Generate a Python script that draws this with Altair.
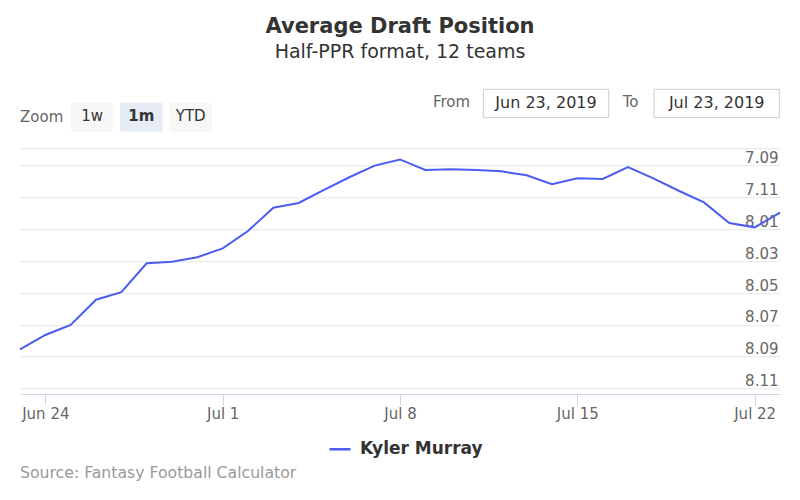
import altair as alt
import pandas as pd

# ---- data ----
dates = [
    "2019-06-23", "2019-06-24", "2019-06-25", "2019-06-26", "2019-06-27",
    "2019-06-28", "2019-06-29", "2019-06-30", "2019-07-01", "2019-07-02",
    "2019-07-03", "2019-07-04", "2019-07-05", "2019-07-06", "2019-07-07",
    "2019-07-08", "2019-07-09", "2019-07-10", "2019-07-11", "2019-07-12",
    "2019-07-13", "2019-07-14", "2019-07-15", "2019-07-16", "2019-07-17",
    "2019-07-18", "2019-07-19", "2019-07-20", "2019-07-21", "2019-07-22",
    "2019-07-23",
]
# overall pick number (12 teams): 81 = 7.09, 85 = 8.01, ...
adp = [
    92.54, 91.64, 91.01, 89.42, 88.95, 87.13, 87.03, 86.75, 86.19, 85.10,
    83.64, 83.34, 82.52, 81.72, 80.99, 80.60, 81.26, 81.22, 81.27, 81.35,
    81.60, 82.16, 81.79, 81.83, 81.08, 81.79, 82.57, 83.30, 84.60, 84.87,
    83.95,
]
player = "Kyler Murray"
y_ticks = [79.9, 81, 83, 85, 87, 89, 91, 93, 95]
x_ticks = ["2019-06-24", "2019-07-01", "2019-07-08", "2019-07-15", "2019-07-22"]
x_range = ["2019-06-23", "2019-07-23"]
y_range = [79.9, 95.35]
zoom_label = "Zoom"
zoom_buttons = ["1w", "1m", "YTD"]
from_label, to_label = "From", "To"
date_from, date_to = "Jun 23, 2019", "Jul 23, 2019"
title_text = "Average Draft Position"
subtitle_text = "Half-PPR format, 12 teams"
source_text = "Source: Fantasy Football Calculator"

FONT = "DejaVu Sans"
LINE_COLOR = "#4b5cf0"

df = pd.DataFrame({"date": dates, "adp": adp, "player": player})


def dt(s):
    y, m, d = map(int, s.split("-"))
    return alt.DateTime(year=y, month=m, date=d, utc=True)


label_expr = (
    "datum.value < 80 ? '' : (floor((datum.value - 1) / 12) + 1) + '.' + "
    "(((datum.value - 1) % 12 + 1) < 10 ? '0' : '') + ((datum.value - 1) % 12 + 1)"
)

W, H = 760, 245.7

line = alt.Chart(df).mark_line(strokeWidth=2).encode(
    x=alt.X(
        "date:T",
        scale=alt.Scale(type="utc", domain=[dt(s) for s in x_range]),
        axis=alt.Axis(
            values=[dt(s) for s in x_ticks],
            labelExpr="utcFormat(datum.value, '%b %-d')",
            title=None,
            grid=False,
            domainColor="#ccd6eb",
            tickColor="#ccd6eb",
            tickSize=11,
            labelPadding=1,
            labelFlush=False,
            labelOverlap=False,
            labelFont=FONT,
            labelFontSize=15,
            labelColor="#666666",
        ),
    ),
    y=alt.Y(
        "adp:Q",
        scale=alt.Scale(domain=y_range, reverse=True, zero=False, nice=False),
        axis=alt.Axis(
            orient="right",
            values=y_ticks,
            labelExpr=label_expr,
            title=None,
            grid=True,
            gridColor="#e6e6e6",
            domain=False,
            ticks=False,
            labelAlign="right",
            labelBaseline="alphabetic",
            labelPadding=-2,
            labelOffset=-3,
            labelOverlap=False,
            labelFont=FONT,
            labelFontSize=15,
            labelColor="#666666",
        ),
    ),
    color=alt.Color(
        "player:N",
        scale=alt.Scale(range=[LINE_COLOR]),
        legend=alt.Legend(
            title=None,
            orient="none",
            legendX=308,
            legendY=289,
            symbolType="stroke",
            symbolSize=441,
            symbolStrokeWidth=2.5,
            labelFont=FONT,
            labelFontSize=17,
            labelFontWeight="bold",
            labelColor="#333333",
            labelOffset=8,
        ),
    ),
)


def one(text):
    return alt.Chart(pd.DataFrame({"t": [text]}))


def txt(text, x, y, size=15, color="#333333", weight="normal", align="left"):
    return one(text).mark_text(
        font=FONT, fontSize=size, color=color, fontWeight=weight,
        align=align, baseline="alphabetic",
    ).encode(text="t:N", x=alt.value(x), y=alt.value(y))


def box(x, x2, y, y2, fill, stroke=None):
    kw = dict(fill=fill, cornerRadius=2)
    if stroke:
        kw = dict(fill=fill, stroke=stroke, strokeWidth=1)
    return one("").mark_rect(**kw).encode(
        x=alt.value(x), x2=alt.value(x2), y=alt.value(y), y2=alt.value(y2)
    )


layers = [line]
# range selector
layers.append(txt(zoom_label, 0, -26, color="#666666"))
btn_x = [(51, 93.3), (100, 142.7), (149.3, 192)]
for i, (b, (x0, x1)) in enumerate(zip(zoom_buttons, btn_x)):
    sel = i == 1
    layers.append(box(x0, x1, -45.6, -16.6, "#e6ebf5" if sel else "#f7f7f7"))
    layers.append(txt(b, (x0 + x1) / 2, -27.5, align="center",
                      weight="bold" if sel else "normal"))
# date inputs
layers.append(txt(from_label, 413, -41, color="#666666"))
layers.append(box(463.3, 588.7, -59, -30.6, "#ffffff", "#cccccc"))
layers.append(txt(date_from, 526, -40, size=16, align="center"))
layers.append(txt(to_label, 602.7, -41, color="#666666"))
layers.append(box(634, 759.3, -59, -30.6, "#ffffff", "#cccccc"))
layers.append(txt(date_to, 696.7, -40, size=16, align="center"))
# source credit
layers.append(txt(source_text, 0, 329.7, size=15.7, color="#999999"))

chart = alt.layer(*layers).properties(
    width=W,
    height=H,
    padding={"left": 12, "top": 140.3, "right": 12, "bottom": 98},
    autosize=alt.AutoSizeParams(type="none"),
    title=alt.TitleParams(
        text=title_text,
        subtitle=subtitle_text,
        anchor="middle",
        frame="group",
        font=FONT,
        fontSize=21,
        fontWeight="bold",
        color="#333333",
        subtitleFont=FONT,
        subtitleFontSize=19,
        subtitleColor="#333333",
        subtitlePadding=6,
        offset=27,
    ),
).configure_view(stroke=None)

chart.save("out.html", embed_options={"renderer": "svg", "actions": False})
